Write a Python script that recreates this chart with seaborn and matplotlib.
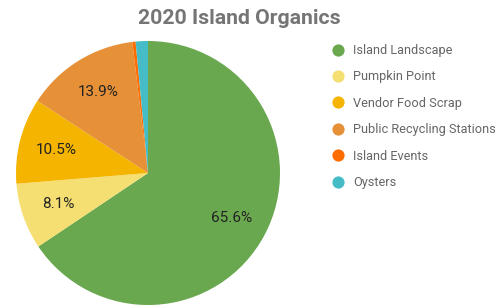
import matplotlib
matplotlib.use("Agg")
import matplotlib.pyplot as plt
from matplotlib.lines import Line2D
import seaborn as sns

sns.set_theme(style="white")
plt.rcParams["font.family"] = ["Roboto", "DejaVu Sans"]

# data
categorias = ["Island Landscape", "Pumpkin Point", "Vendor Food Scrap",
              "Public Recycling Stations", "Island Events", "Oysters"]
percentagens = [65.6, 8.1, 10.5, 13.9, 0.4, 1.5]
cores = ["#6aa84f", "#f6df72", "#f4b400", "#e69138", "#ff6d01", "#46bdc6"]

W, H = 501, 305
fig = plt.figure(figsize=(W / 100, H / 100), dpi=100)
ax = fig.add_axes([16 / W, 0 / H, 264 / W, 264 / H])

wedges, textos, autot = ax.pie(
    percentagens, colors=cores, startangle=90, counterclock=False,
    autopct=lambda p: f"{p:.1f}%" if p > 5 else "", pctdistance=0.72,
    wedgeprops=dict(linewidth=0), textprops=dict(color="#222222", fontsize=11))
ax.set_xlim(-1, 1); ax.set_ylim(-1, 1)
ax.set_aspect("equal")
ax.axis("off")

fig.text(239 / W, 1 - 18 / H, "2020 Island Organics", ha="center", va="center",
         fontsize=15.3, fontweight="bold", color="#757575")

handles = [Line2D([], [], marker="o", linestyle="", markersize=8.8,
                  markerfacecolor=c, markeredgewidth=0) for c in cores]
fig.legend(handles, categorias, loc="upper left",
           bbox_to_anchor=(331.6 / W, 1 - 44 / H), frameon=False,
           fontsize=9.2, labelcolor="#666666", labelspacing=1.05,
           handletextpad=0.67, handlelength=1.0, borderpad=0, borderaxespad=0)

fig.savefig("out.png", dpi=100)
